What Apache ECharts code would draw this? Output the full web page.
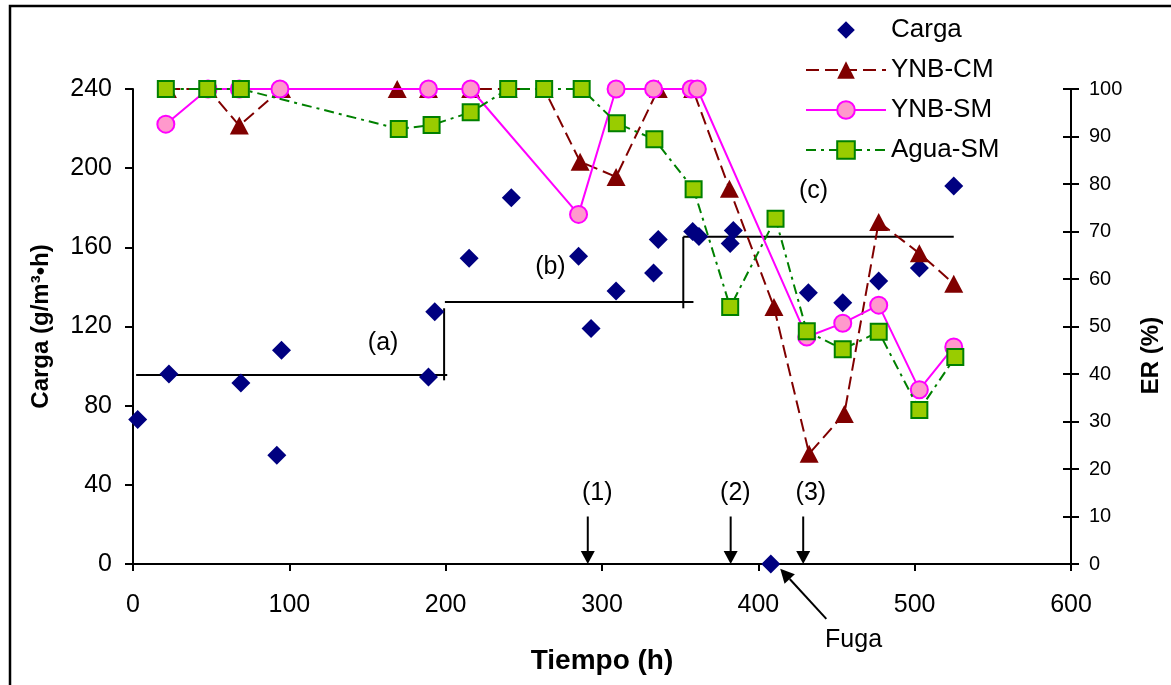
<!DOCTYPE html>
<html>
<head>
<meta charset="utf-8">
<script src="https://cdn.jsdelivr.net/npm/echarts@6/dist/echarts.min.js"></script>
<style>
html,body{margin:0;padding:0;background:#fff;}
#main{width:1171px;height:685px;}
</style>
</head>
<body>
<div id="main"></div>
<script>
// ---- data (x = Tiempo h, y = value) ----
const carga = [[3,73],[23,96],[69,91.5],[92,55],[95,108],[189,94.5],[193,127.5],[215,154.5],[242,185],
  [285,155.5],[293,119],[309,138],[333,147],[336,164],[358,168],[362,165.5],[382,162],[384,168.5],
  [408,0],[432,137],[454,132],[477,143],[503,149.5],[525,191]];
const ynbCM = [[22,100],[48,100],[68,92.3],[95,100],[169,100],[189,100],[216,100],[240,100],[263,100],
  [286,84.7],[309,81.5],[336,100],[358,100],[381.5,79],[410,54.1],[432.5,23.2],[455,31.6],[477,72],[503,65.4],[525,59]];
const ynbSM = [[21,92.6],[48,100],[68,100],[94,100],[189,100],[216,100],[285,73.6],[309,100],[333,100],
  [357,100],[361,100],[431,47.8],[454,50.7],[477,54.5],[503,36.7],[525,45.7]];
const aguaSM = [[21,100],[47.5,100],[69,100],[170,91.6],[191,92.4],[216,95.1],[240,100],[263,100],[287,100],
  [309.5,92.8],[333.5,89.4],[358.6,78.9],[382,54.1],[411,72.7],[431,49],[454,45.2],[477,48.9],[503,32.4],[526,43.6]];
const seriesNames = ['Carga','YNB-CM','YNB-SM','Agua-SM'];
const xTicks = [0,600,100];      // min, max, interval
const yLeftTicks = [0,240,40];
const yRightTicks = [0,100,10];
// step lines (left axis): [x1,y1,x2,y2]
const stepSegs = [[2,95.5,201,95.5],[199,92.8,199,129.2],[199.5,132.4,358.5,132.4],[352,129.2,352,165.3],[352,165.3,525,165.3]];
const stageLabels = [['(a)',160,111.4],['(b)',267,150],['(c)',435.3,188.6]];
const eventLabels = [['(1)',297,35.6],['(2)',385.3,35.6],['(3)',433.6,35.6]];
const eventArrows = [[290.9,24,290.9,0],[382.3,24,382.3,0],[428.7,24,428.7,0]];
const fugaArrow = [443.5,-27.7,414,-2.4];
const fugaLabel = ['Fuga',460.9,-38.7];

const FONT = 'Liberation Sans, Arial, sans-serif';
const chart = echarts.init(document.getElementById('main'));
const option = {
  backgroundColor:'#fff',
  animation:false,
  textStyle:{fontFamily:FONT,color:'#000'},
  grid:{left:133,right:99,top:89,bottom:121,containLabel:false},
  legend:{
    orient:'vertical',left:805,top:17,padding:0,itemWidth:80,itemHeight:22,itemGap:14,
    textStyle:{fontFamily:FONT,fontSize:26,color:'#000',padding:[4,0,0,0]},
    data:seriesNames
  },
  xAxis:{
    type:'value',min:xTicks[0],max:xTicks[1],interval:xTicks[2],
    name:'Tiempo (h)',nameLocation:'middle',nameGap:83,
    nameTextStyle:{fontFamily:FONT,fontSize:28,fontWeight:'bold',color:'#000'},
    axisLine:{lineStyle:{color:'#000',width:2}},
    axisTick:{inside:false,length:7,lineStyle:{color:'#000',width:2}},
    axisLabel:{fontFamily:FONT,fontSize:25,color:'#000',margin:29},
    splitLine:{show:false}
  },
  yAxis:[{
    type:'value',position:'left',min:yLeftTicks[0],max:yLeftTicks[1],interval:yLeftTicks[2],
    name:'Carga (g/m³•h)',nameLocation:'middle',nameGap:80,nameRotate:90,
    nameTextStyle:{fontFamily:FONT,fontSize:24,fontWeight:'bold',color:'#000'},
    axisLine:{show:true,lineStyle:{color:'#000',width:2}},
    axisTick:{show:true,inside:false,length:8,lineStyle:{color:'#000',width:2}},
    axisLabel:{fontFamily:FONT,fontSize:25,color:'#000',margin:21},
    splitLine:{show:false}
  },{
    type:'value',position:'right',min:yRightTicks[0],max:yRightTicks[1],interval:yRightTicks[2],
    name:'ER (%)',nameLocation:'middle',nameGap:68,nameRotate:90,
    nameTextStyle:{fontFamily:FONT,fontSize:24,fontWeight:'bold',color:'#000',padding:[0,58,0,0]},
    axisLine:{show:true,lineStyle:{color:'#000',width:2}},
    axisTick:{show:true,inside:false,length:8,lineStyle:{color:'#000',width:2}},
    axisLabel:{fontFamily:FONT,fontSize:20,color:'#000',margin:18},
    splitLine:{show:false}
  },{
    type:'value',position:'right',min:yRightTicks[0],max:yRightTicks[1],interval:yRightTicks[2],
    axisLine:{show:false},axisTick:{show:true,inside:true,length:8,lineStyle:{color:'#000',width:2}},
    axisLabel:{show:false},splitLine:{show:false}
  }],
  series:[
    {name:seriesNames[0],type:'line',yAxisIndex:0,data:carga,symbol:'diamond',symbolSize:19,showAllSymbol:true,
     lineStyle:{opacity:0,width:0},itemStyle:{color:'#000080',opacity:1},z:2},
    {name:seriesNames[1],type:'line',yAxisIndex:1,data:ynbCM,symbol:'triangle',symbolSize:[19,18],showAllSymbol:true,
     lineStyle:{color:'#800000',width:2,type:[13,6]},itemStyle:{color:'#800000',borderWidth:0},z:3},
    {name:seriesNames[2],type:'line',yAxisIndex:1,data:ynbSM,symbol:'circle',symbolSize:17,showAllSymbol:true,
     lineStyle:{color:'#FF00FF',width:2,type:'solid'},itemStyle:{color:'#FF99CC',borderColor:'#FF00FF',borderWidth:2},z:4},
    {name:seriesNames[3],type:'line',yAxisIndex:1,data:aguaSM,symbol:'rect',symbolSize:16,showAllSymbol:true,
     lineStyle:{color:'#008000',width:2,type:[10,5,3,5]},itemStyle:{color:'#99CC00',borderColor:'#008000',borderWidth:2},z:5}
  ]
};
chart.setOption(option);

function P(x,y){ return chart.convertToPixel({seriesIndex:0},[x,y]); }
function arrow(x1,y1,x2,y2,head,half){
  const a=P(x1,y1), b=P(x2,y2);
  const dx=b[0]-a[0], dy=b[1]-a[1], L=Math.hypot(dx,dy), ux=dx/L, uy=dy/L;
  const bx=b[0]-ux*head, by=b[1]-uy*head;
  return [
    {type:'line',shape:{x1:a[0],y1:a[1],x2:bx,y2:by},style:{stroke:'#000',lineWidth:2},z:50},
    {type:'polygon',shape:{points:[[b[0],b[1]],[bx-uy*half,by+ux*half],[bx+uy*half,by-ux*half]]},style:{fill:'#000'},z:50}
  ];
}
const g=[];
g.push({type:'rect',shape:{x:10,y:6,width:1300,height:800},style:{fill:'none',stroke:'#000',lineWidth:2.5},z:0,silent:true});
stepSegs.forEach(s=>{const a=P(s[0],s[1]),b=P(s[2],s[3]);
  g.push({type:'line',shape:{x1:a[0],y1:a[1],x2:b[0],y2:b[1]},style:{stroke:'#000',lineWidth:2},z:1});});
stageLabels.concat(eventLabels).forEach(t=>{const p=P(t[1],t[2]);
  g.push({type:'text',x:p[0],y:p[1],style:{text:t[0],font:'25px '+FONT,fill:'#000',align:'center',verticalAlign:'middle'},z:50});});
eventArrows.forEach(s=>{arrow(s[0],s[1],s[2],s[3],13,7).forEach(e=>g.push(e));});
arrow(fugaArrow[0],fugaArrow[1],fugaArrow[2],fugaArrow[3],14,7).forEach(e=>g.push(e));
{const p=P(fugaLabel[1],fugaLabel[2]);
 g.push({type:'text',x:p[0],y:p[1],style:{text:fugaLabel[0],font:'25px '+FONT,fill:'#000',align:'center',verticalAlign:'middle'},z:50});}
chart.setOption({graphic:g});
</script>
</body>
</html>
